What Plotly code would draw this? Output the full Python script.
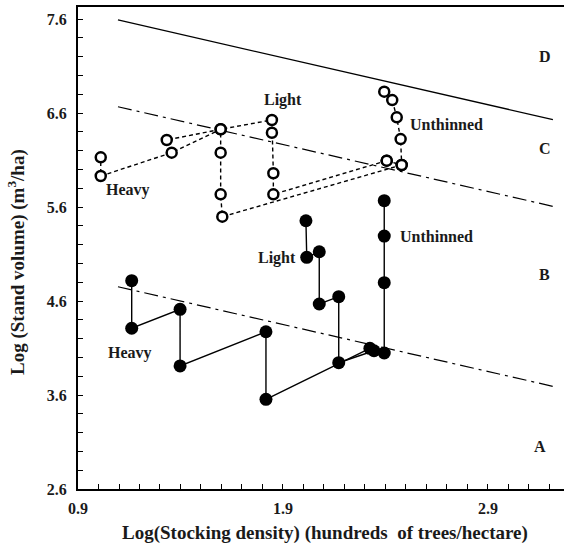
import plotly.graph_objects as go

# ---- data (log stocking density, log stand volume) ----
# filled (observed) series
heavy_x = [2.324, 1.817, 1.817, 1.398, 1.398, 1.162, 1.162]
heavy_y = [4.097, 3.554, 4.273, 3.909, 4.512, 4.310, 4.816]
light_x = [2.344, 2.172, 2.172, 2.077, 2.077, 2.016, 2.012]
light_y = [4.071, 3.944, 4.646, 4.568, 5.124, 5.065, 5.454]
unth_x = [2.394, 2.394, 2.394, 2.394]
unth_y = [4.047, 4.795, 5.291, 5.667]

# open (predicted) series
o_heavy_x = [2.479, 1.604, 1.596, 1.596, 1.596, 1.357, 1.011, 1.011]
o_heavy_y = [6.047, 5.497, 5.735, 6.178, 6.427, 6.178, 5.930, 6.129]
o_light_x = [2.406, 1.853, 1.853, 1.846, 1.846, 1.596, 1.333]
o_light_y = [6.093, 5.735, 5.959, 6.390, 6.526, 6.427, 6.313]
o_unth_x = [2.406, 2.479, 2.474, 2.455, 2.433, 2.394]
o_unth_y = [6.093, 6.047, 6.323, 6.554, 6.738, 6.827]

# boundary lines (slope -1/2)
line_x = [1.095, 3.217]
top_line_y = [7.59, 6.53]
mid_line_y = [6.667, 5.607]
low_line_y = [4.752, 3.692]

# labels
label_text = ["Heavy", "Light", "Unthinned", "Light", "Unthinned", "Heavy", "D", "C", "B", "A"]
label_x = [1.144, 1.901, 2.699, 1.869, 2.651, 1.154, 3.178, 3.178, 3.178, 3.154]
label_y = [5.78, 6.738, 6.483, 5.054, 5.284, 4.044, 7.199, 6.225, 4.877, 3.05]

x_ticks = [0.9, 1.9, 2.9]
y_ticks = [2.6, 3.6, 4.6, 5.6, 6.6, 7.6]

FONT = "Liberation Serif"
TXT = "#1a1a1a"

fig = go.Figure()

fig.add_trace(go.Scatter(x=line_x, y=top_line_y, mode="lines",
                         line=dict(color="black", width=1.3)))
for ly in (mid_line_y, low_line_y):
    fig.add_trace(go.Scatter(x=line_x, y=ly, mode="lines",
                             line=dict(color="black", width=1.2, dash="14px,5px,3px,5px")))

for xs, ys in ((o_heavy_x, o_heavy_y), (o_light_x, o_light_y), (o_unth_x, o_unth_y)):
    fig.add_trace(go.Scatter(x=xs, y=ys, mode="lines+markers",
                             line=dict(color="black", width=1.4, dash="4px,3px"),
                             marker=dict(symbol="circle", size=10, color="white",
                                         line=dict(color="black", width=2.5))))

for xs, ys in ((heavy_x, heavy_y), (light_x, light_y), (unth_x, unth_y)):
    fig.add_trace(go.Scatter(x=xs, y=ys, mode="lines+markers",
                             line=dict(color="black", width=1.4),
                             marker=dict(symbol="circle", size=13, color="black")))

for t, x, y in zip(label_text, label_x, label_y):
    fig.add_annotation(x=x, y=y, text="<b>%s</b>" % t, showarrow=False,
                       font=dict(family=FONT, size=16, color=TXT))

# axis titles
fig.add_annotation(xref="paper", yref="paper", x=0.508, y=-0.091,
                   xanchor="center", yanchor="middle", showarrow=False,
                   text="<b>Log(Stocking density) (hundreds  of trees/hectare)</b>",
                   font=dict(family=FONT, size=19, color=TXT))
fig.add_annotation(xref="paper", yref="paper", x=-0.1255, y=0.471,
                   xanchor="center", yanchor="middle", showarrow=False, textangle=-90,
                   text="<b>Log (Stand volume) (m<sup>3</sup>/ha)</b>",
                   font=dict(family=FONT, size=19, color=TXT))

axis_common = dict(showgrid=False, zeroline=False, showline=True, linecolor="black",
                   linewidth=2, ticks="inside", ticklen=5, tickwidth=1.2, tickcolor="black",
                   tickfont=dict(family=FONT, size=16, color=TXT, weight="bold"))

fig.update_xaxes(range=[0.9, 3.271], tickvals=x_ticks, ticktext=[f"{v:.1f}" for v in x_ticks],
                 minor=dict(dtick=0.1, tick0=0.9, ticks="inside", ticklen=5, tickwidth=1.2,
                            tickcolor="black"),
                 mirror=True, ticklabelstandoff=4, **axis_common)
fig.update_yaxes(range=[2.6, 7.728], tickvals=y_ticks, ticktext=[f"{v:.1f}" for v in y_ticks],
                 minor=dict(dtick=0.2, tick0=2.6, ticks="inside", ticklen=5, tickwidth=1.2,
                            tickcolor="black"),
                 ticklabelstandoff=6, **axis_common)

fig.update_layout(width=564, height=543, showlegend=False,
                  margin=dict(l=78, r=0, t=7, b=54),
                  plot_bgcolor="white", paper_bgcolor="white")

fig.write_html("out.html")
